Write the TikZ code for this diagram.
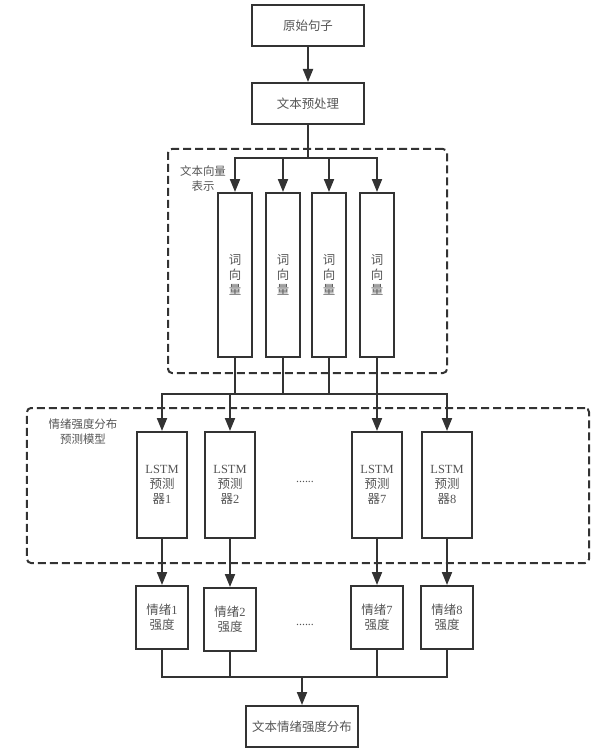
\documentclass[tikz,border=0pt]{standalone}
\usepackage{fontspec}
\setmainfont{Liberation Serif}
\newfontfamily\cjk{Noto Sans CJK SC}
\newcommand{\zh}[1]{{\cjk #1}}
\usetikzlibrary{arrows.meta}
\usetikzlibrary{positioning}
\definecolor{linec}{HTML}{333333}
\definecolor{textc}{HTML}{555555}
\tikzset{>={Triangle[width=10bp,length=13bp]}}

\begin{document}
\begin{tikzpicture}[x=1bp,y=-1bp,
	box/.style={draw=linec,line width=2bp,inner sep=0pt,align=center,text=textc,font=\fontsize{12.5}{15}\selectfont},
	flowbox/.style={box,minimum width=112bp,minimum height=41bp},
	wordbox/.style={box,minimum width=34bp,minimum height=164bp},
	lstmbox/.style={box,minimum width=50bp,minimum height=106bp},
	emobox/.style={box,minimum width=52bp,minimum height=63bp},
	group/.style={draw=linec,line width=2bp,dash pattern=on 8bp off 4bp,rounded corners=4bp,inner sep=0pt},
	glabel/.style={align=center,text=textc,inner sep=0pt,font=\cjk\fontsize{11.5}{15}\selectfont},
	link/.style={draw=linec,line width=2bp},
	bus/.style={link,line cap=rect},
	dots/.style={text=textc,inner sep=0pt,font=\fontsize{12}{12}\selectfont}]
	\useasboundingbox (0,0) rectangle (607,749);
	% groups
	\node[group,minimum width=279bp,minimum height=224bp] (vecgroup) at (307.5,261) {};
	\node[group,minimum width=562bp,minimum height=155bp] (modgroup) at (308,485.5) {};
	\node[glabel] (veclabel) at (203,179) {文本向量\\表示};
	\node[glabel] (modlabel) at (83,432) {情绪强度分布\\预测模型};
	% main flow
	\node[flowbox] (src) at (308,25.5) {\zh{原始句子}};
	\node[flowbox] (prep) at (308,103.5) {\zh{文本预处理}};
	\node[wordbox] (w1) at (235,275) {\zh{词}\\\zh{向}\\\zh{量}};
	\node[wordbox] (w2) at (283,275) {\zh{词}\\\zh{向}\\\zh{量}};
	\node[wordbox] (w3) at (329,275) {\zh{词}\\\zh{向}\\\zh{量}};
	\node[wordbox] (w4) at (377,275) {\zh{词}\\\zh{向}\\\zh{量}};
	\node[lstmbox] (l1) at (162,485) {LSTM\\\zh{预测}\\\zh{器}1};
	\node[lstmbox] (l2) at (230,485) {LSTM\\\zh{预测}\\\zh{器}2};
	\node[lstmbox] (l7) at (377,485) {LSTM\\\zh{预测}\\\zh{器}7};
	\node[lstmbox] (l8) at (447,485) {LSTM\\\zh{预测}\\\zh{器}8};
	\node[dots] (ldots) at (305,482) {......};
	\node[emobox] (e1) at (162,617.5) {\zh{情绪}1\\\zh{强度}};
	\node[emobox] (e2) at (230,619.5) {\zh{情绪}2\\\zh{强度}};
	\node[emobox] (e7) at (377,617.5) {\zh{情绪}7\\\zh{强度}};
	\node[emobox] (e8) at (447,617.5) {\zh{情绪}8\\\zh{强度}};
	\node[dots] (edots) at (305,625) {......};
	\node[flowbox] (out) at (302,726.5) {\zh{文本情绪强度分布}};
	% connectors
	\coordinate (bus1) at (308,158);
	\coordinate (bus2) at (300,394);
	\coordinate (bus3) at (302,677);
	\draw[link,->] (src) -- (prep);
	\draw[link] (prep.south) -- (bus1);
	\draw[bus] (w1 |- bus1) -- (w4 |- bus1);
	\foreach \i in {1,...,4}
		\draw[link,->] (w\i |- bus1) -- (w\i);
	\foreach \i in {1,...,4}
		\draw[link] (w\i) -- (w\i |- bus2);
	\draw[bus] (l1 |- bus2) -- (l8 |- bus2);
	\foreach \i in {1,2,7,8}
		\draw[link,->] (l\i |- bus2) -- (l\i);
	\foreach \i in {1,2,7,8}
		\draw[link,->] (l\i.south) -- (l\i.south |- e\i.north);
	\foreach \i in {1,2,7,8}
		\draw[link] (e\i) -- (e\i |- bus3);
	\draw[bus] (e1 |- bus3) -- (e8 |- bus3);
	\draw[link,->] (bus3) -- (out);
\end{tikzpicture}
\end{document}
